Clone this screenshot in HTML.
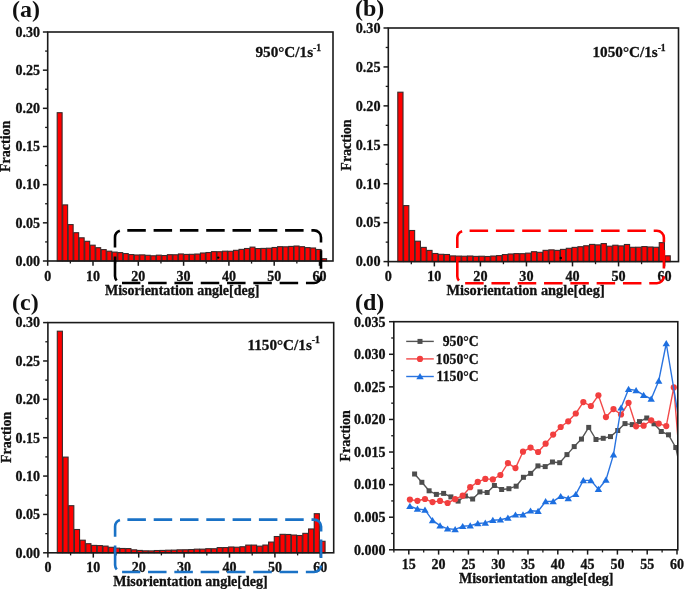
<!DOCTYPE html>
<html><head><meta charset="utf-8"><style>html,body{margin:0;padding:0;background:#fff;}svg{display:block;filter:blur(0.35px);}text{stroke:#111;stroke-width:0.3px;}</style></head><body>
<svg width="685" height="589" viewBox="0 0 685 589" font-family='"Liberation Serif", serif' font-weight="bold" fill="#111">
<rect width="685" height="589" fill="#ffffff"/>
<rect x="57.2" y="112.7" width="4.91" height="148.3" fill="#ff0000" stroke="#3a2a2a" stroke-width="1.1"/>
<rect x="62.71" y="204.9" width="4.91" height="56.1" fill="#ff0000" stroke="#3a2a2a" stroke-width="1.1"/>
<rect x="68.22" y="224.6" width="4.91" height="36.4" fill="#ff0000" stroke="#3a2a2a" stroke-width="1.1"/>
<rect x="73.73" y="232.7" width="4.91" height="28.3" fill="#ff0000" stroke="#3a2a2a" stroke-width="1.1"/>
<rect x="79.24" y="237.8" width="4.91" height="23.2" fill="#ff0000" stroke="#3a2a2a" stroke-width="1.1"/>
<rect x="84.75" y="241.3" width="4.91" height="19.7" fill="#ff0000" stroke="#3a2a2a" stroke-width="1.1"/>
<rect x="90.26" y="245.2" width="4.91" height="15.8" fill="#ff0000" stroke="#3a2a2a" stroke-width="1.1"/>
<rect x="95.77" y="247.7" width="4.91" height="13.3" fill="#ff0000" stroke="#3a2a2a" stroke-width="1.1"/>
<rect x="101.28" y="249.6" width="4.91" height="11.4" fill="#ff0000" stroke="#3a2a2a" stroke-width="1.1"/>
<rect x="106.79" y="251.2" width="4.91" height="9.8" fill="#ff0000" stroke="#3a2a2a" stroke-width="1.1"/>
<rect x="112.3" y="252.1" width="4.91" height="8.9" fill="#ff0000" stroke="#3a2a2a" stroke-width="1.1"/>
<rect x="117.81" y="252.6" width="4.91" height="8.4" fill="#ff0000" stroke="#3a2a2a" stroke-width="1.1"/>
<rect x="123.32" y="253.57" width="4.91" height="7.43" fill="#ff0000" stroke="#3a2a2a" stroke-width="1.1"/>
<rect x="128.83" y="254.57" width="4.91" height="6.43" fill="#ff0000" stroke="#3a2a2a" stroke-width="1.1"/>
<rect x="134.34" y="254.99" width="4.91" height="6.01" fill="#ff0000" stroke="#3a2a2a" stroke-width="1.1"/>
<rect x="139.85" y="254.88" width="4.91" height="6.12" fill="#ff0000" stroke="#3a2a2a" stroke-width="1.1"/>
<rect x="145.36" y="255.29" width="4.91" height="5.71" fill="#ff0000" stroke="#3a2a2a" stroke-width="1.1"/>
<rect x="150.87" y="255.78" width="4.91" height="5.22" fill="#ff0000" stroke="#3a2a2a" stroke-width="1.1"/>
<rect x="156.38" y="255.18" width="4.91" height="5.82" fill="#ff0000" stroke="#3a2a2a" stroke-width="1.1"/>
<rect x="161.89" y="255.53" width="4.91" height="5.47" fill="#ff0000" stroke="#3a2a2a" stroke-width="1.1"/>
<rect x="167.4" y="254.7" width="4.91" height="6.3" fill="#ff0000" stroke="#3a2a2a" stroke-width="1.1"/>
<rect x="172.91" y="254.77" width="4.91" height="6.23" fill="#ff0000" stroke="#3a2a2a" stroke-width="1.1"/>
<rect x="178.42" y="253.95" width="4.91" height="7.05" fill="#ff0000" stroke="#3a2a2a" stroke-width="1.1"/>
<rect x="183.93" y="254.42" width="4.91" height="6.58" fill="#ff0000" stroke="#3a2a2a" stroke-width="1.1"/>
<rect x="189.44" y="254.32" width="4.91" height="6.68" fill="#ff0000" stroke="#3a2a2a" stroke-width="1.1"/>
<rect x="194.95" y="254.03" width="4.91" height="6.97" fill="#ff0000" stroke="#3a2a2a" stroke-width="1.1"/>
<rect x="200.46" y="252.99" width="4.91" height="8.01" fill="#ff0000" stroke="#3a2a2a" stroke-width="1.1"/>
<rect x="205.97" y="252.53" width="4.91" height="8.47" fill="#ff0000" stroke="#3a2a2a" stroke-width="1.1"/>
<rect x="211.48" y="251.65" width="4.91" height="9.35" fill="#ff0000" stroke="#3a2a2a" stroke-width="1.1"/>
<rect x="216.99" y="251.73" width="4.91" height="9.27" fill="#ff0000" stroke="#3a2a2a" stroke-width="1.1"/>
<rect x="222.5" y="251.19" width="4.91" height="9.81" fill="#ff0000" stroke="#3a2a2a" stroke-width="1.1"/>
<rect x="228.01" y="251.27" width="4.91" height="9.73" fill="#ff0000" stroke="#3a2a2a" stroke-width="1.1"/>
<rect x="233.52" y="250.32" width="4.91" height="10.68" fill="#ff0000" stroke="#3a2a2a" stroke-width="1.1"/>
<rect x="239.03" y="249.38" width="4.91" height="11.62" fill="#ff0000" stroke="#3a2a2a" stroke-width="1.1"/>
<rect x="244.54" y="248.5" width="4.91" height="12.5" fill="#ff0000" stroke="#3a2a2a" stroke-width="1.1"/>
<rect x="250.05" y="247.13" width="4.91" height="13.87" fill="#ff0000" stroke="#3a2a2a" stroke-width="1.1"/>
<rect x="255.56" y="248.55" width="4.91" height="12.45" fill="#ff0000" stroke="#3a2a2a" stroke-width="1.1"/>
<rect x="261.07" y="248.41" width="4.91" height="12.59" fill="#ff0000" stroke="#3a2a2a" stroke-width="1.1"/>
<rect x="266.58" y="248.21" width="4.91" height="12.79" fill="#ff0000" stroke="#3a2a2a" stroke-width="1.1"/>
<rect x="272.09" y="247.49" width="4.91" height="13.51" fill="#ff0000" stroke="#3a2a2a" stroke-width="1.1"/>
<rect x="277.6" y="246.68" width="4.91" height="14.32" fill="#ff0000" stroke="#3a2a2a" stroke-width="1.1"/>
<rect x="283.11" y="246.8" width="4.91" height="14.2" fill="#ff0000" stroke="#3a2a2a" stroke-width="1.1"/>
<rect x="288.62" y="246.44" width="4.91" height="14.56" fill="#ff0000" stroke="#3a2a2a" stroke-width="1.1"/>
<rect x="294.13" y="246.02" width="4.91" height="14.98" fill="#ff0000" stroke="#3a2a2a" stroke-width="1.1"/>
<rect x="299.64" y="246.7" width="4.91" height="14.3" fill="#ff0000" stroke="#3a2a2a" stroke-width="1.1"/>
<rect x="305.15" y="247.61" width="4.91" height="13.39" fill="#ff0000" stroke="#3a2a2a" stroke-width="1.1"/>
<rect x="310.66" y="247.99" width="4.91" height="13.01" fill="#ff0000" stroke="#3a2a2a" stroke-width="1.1"/>
<rect x="316.17" y="249.49" width="4.91" height="11.51" fill="#ff0000" stroke="#3a2a2a" stroke-width="1.1"/>
<rect x="321.68" y="258.7" width="4.91" height="2.3" fill="#ff0000" stroke="#3a2a2a" stroke-width="1.1"/>
<rect x="47.7" y="32" width="285.3" height="229" fill="none" stroke="#1a1a1a" stroke-width="1.6"/>
<line x1="42.9" y1="261" x2="47.7" y2="261" stroke="#1a1a1a" stroke-width="1.5"/>
<text x="39.9" y="265.8" text-anchor="end" font-size="14">0.00</text>
<line x1="45.1" y1="241.92" x2="47.7" y2="241.92" stroke="#1a1a1a" stroke-width="1.3"/>
<line x1="42.9" y1="222.83" x2="47.7" y2="222.83" stroke="#1a1a1a" stroke-width="1.5"/>
<text x="39.9" y="227.63" text-anchor="end" font-size="14">0.05</text>
<line x1="45.1" y1="203.75" x2="47.7" y2="203.75" stroke="#1a1a1a" stroke-width="1.3"/>
<line x1="42.9" y1="184.67" x2="47.7" y2="184.67" stroke="#1a1a1a" stroke-width="1.5"/>
<text x="39.9" y="189.47" text-anchor="end" font-size="14">0.10</text>
<line x1="45.1" y1="165.58" x2="47.7" y2="165.58" stroke="#1a1a1a" stroke-width="1.3"/>
<line x1="42.9" y1="146.5" x2="47.7" y2="146.5" stroke="#1a1a1a" stroke-width="1.5"/>
<text x="39.9" y="151.3" text-anchor="end" font-size="14">0.15</text>
<line x1="45.1" y1="127.42" x2="47.7" y2="127.42" stroke="#1a1a1a" stroke-width="1.3"/>
<line x1="42.9" y1="108.33" x2="47.7" y2="108.33" stroke="#1a1a1a" stroke-width="1.5"/>
<text x="39.9" y="113.13" text-anchor="end" font-size="14">0.20</text>
<line x1="45.1" y1="89.25" x2="47.7" y2="89.25" stroke="#1a1a1a" stroke-width="1.3"/>
<line x1="42.9" y1="70.17" x2="47.7" y2="70.17" stroke="#1a1a1a" stroke-width="1.5"/>
<text x="39.9" y="74.97" text-anchor="end" font-size="14">0.25</text>
<line x1="45.1" y1="51.08" x2="47.7" y2="51.08" stroke="#1a1a1a" stroke-width="1.3"/>
<line x1="42.9" y1="32" x2="47.7" y2="32" stroke="#1a1a1a" stroke-width="1.5"/>
<text x="39.9" y="36.8" text-anchor="end" font-size="14">0.30</text>
<line x1="47.7" y1="261" x2="47.7" y2="265.8" stroke="#1a1a1a" stroke-width="1.5"/>
<text x="47.7" y="280.5" text-anchor="middle" font-size="14">0</text>
<line x1="70.35" y1="261" x2="70.35" y2="263.6" stroke="#1a1a1a" stroke-width="1.3"/>
<line x1="93" y1="261" x2="93" y2="265.8" stroke="#1a1a1a" stroke-width="1.5"/>
<text x="93" y="280.5" text-anchor="middle" font-size="14">10</text>
<line x1="115.65" y1="261" x2="115.65" y2="263.6" stroke="#1a1a1a" stroke-width="1.3"/>
<line x1="138.3" y1="261" x2="138.3" y2="265.8" stroke="#1a1a1a" stroke-width="1.5"/>
<text x="138.3" y="280.5" text-anchor="middle" font-size="14">20</text>
<line x1="160.95" y1="261" x2="160.95" y2="263.6" stroke="#1a1a1a" stroke-width="1.3"/>
<line x1="183.6" y1="261" x2="183.6" y2="265.8" stroke="#1a1a1a" stroke-width="1.5"/>
<text x="183.6" y="280.5" text-anchor="middle" font-size="14">30</text>
<line x1="206.25" y1="261" x2="206.25" y2="263.6" stroke="#1a1a1a" stroke-width="1.3"/>
<line x1="228.9" y1="261" x2="228.9" y2="265.8" stroke="#1a1a1a" stroke-width="1.5"/>
<text x="228.9" y="280.5" text-anchor="middle" font-size="14">40</text>
<line x1="251.55" y1="261" x2="251.55" y2="263.6" stroke="#1a1a1a" stroke-width="1.3"/>
<line x1="274.2" y1="261" x2="274.2" y2="265.8" stroke="#1a1a1a" stroke-width="1.5"/>
<text x="274.2" y="280.5" text-anchor="middle" font-size="14">50</text>
<line x1="296.85" y1="261" x2="296.85" y2="263.6" stroke="#1a1a1a" stroke-width="1.3"/>
<line x1="319.5" y1="261" x2="319.5" y2="265.8" stroke="#1a1a1a" stroke-width="1.5"/>
<text x="319.5" y="280.5" text-anchor="middle" font-size="14">60</text>
<text x="105" y="295" font-size="14">Misorientation angle[deg]</text>
<text transform="translate(10,146.3) rotate(-90)" text-anchor="middle" font-size="14">Fraction</text>
<text x="12" y="16.6" font-size="24" style="stroke-width:0">(a)</text>
<text x="255.5" y="57.3" font-size="15.2">950°C/1s<tspan font-size="9.58" dy="-6.54">-1</tspan></text>
<path d="M122,230.4 H314 A7.0,7.0 0 0 1 321,237.4 V276 A7.0,7.0 0 0 1 314,283 H122" fill="none" stroke="#000000" stroke-width="2.6" stroke-dasharray="18.5 7.8" stroke-dashoffset="21"/><path d="M116.64,280.5 A7.0,7.0 0 0 1 115,276 V256.4 M115,247.6 V237.4 A7.0,7.0 0 0 1 119.84,230.74" fill="none" stroke="#000000" stroke-width="2.6"/>
<rect x="397.8" y="92.2" width="5.21" height="169.4" fill="#ff0000" stroke="#3a2a2a" stroke-width="1.1"/>
<rect x="403.61" y="205.6" width="5.21" height="56" fill="#ff0000" stroke="#3a2a2a" stroke-width="1.1"/>
<rect x="409.42" y="230.5" width="5.21" height="31.1" fill="#ff0000" stroke="#3a2a2a" stroke-width="1.1"/>
<rect x="415.23" y="241.2" width="5.21" height="20.4" fill="#ff0000" stroke="#3a2a2a" stroke-width="1.1"/>
<rect x="421.04" y="247.4" width="5.21" height="14.2" fill="#ff0000" stroke="#3a2a2a" stroke-width="1.1"/>
<rect x="426.85" y="250.4" width="5.21" height="11.2" fill="#ff0000" stroke="#3a2a2a" stroke-width="1.1"/>
<rect x="432.66" y="253.5" width="5.21" height="8.1" fill="#ff0000" stroke="#3a2a2a" stroke-width="1.1"/>
<rect x="438.47" y="254.3" width="5.21" height="7.3" fill="#ff0000" stroke="#3a2a2a" stroke-width="1.1"/>
<rect x="444.28" y="254.5" width="5.21" height="7.1" fill="#ff0000" stroke="#3a2a2a" stroke-width="1.1"/>
<rect x="450.09" y="255.9" width="5.21" height="5.7" fill="#ff0000" stroke="#3a2a2a" stroke-width="1.1"/>
<rect x="455.9" y="256.09" width="5.21" height="5.51" fill="#ff0000" stroke="#3a2a2a" stroke-width="1.1"/>
<rect x="461.71" y="256.23" width="5.21" height="5.37" fill="#ff0000" stroke="#3a2a2a" stroke-width="1.1"/>
<rect x="467.52" y="256.01" width="5.21" height="5.59" fill="#ff0000" stroke="#3a2a2a" stroke-width="1.1"/>
<rect x="473.33" y="256.39" width="5.21" height="5.21" fill="#ff0000" stroke="#3a2a2a" stroke-width="1.1"/>
<rect x="479.14" y="256.24" width="5.21" height="5.36" fill="#ff0000" stroke="#3a2a2a" stroke-width="1.1"/>
<rect x="484.95" y="256.49" width="5.21" height="5.11" fill="#ff0000" stroke="#3a2a2a" stroke-width="1.1"/>
<rect x="490.76" y="256.04" width="5.21" height="5.56" fill="#ff0000" stroke="#3a2a2a" stroke-width="1.1"/>
<rect x="496.57" y="255.62" width="5.21" height="5.98" fill="#ff0000" stroke="#3a2a2a" stroke-width="1.1"/>
<rect x="502.38" y="254.6" width="5.21" height="7" fill="#ff0000" stroke="#3a2a2a" stroke-width="1.1"/>
<rect x="508.19" y="253.97" width="5.21" height="7.63" fill="#ff0000" stroke="#3a2a2a" stroke-width="1.1"/>
<rect x="514" y="253.61" width="5.21" height="7.99" fill="#ff0000" stroke="#3a2a2a" stroke-width="1.1"/>
<rect x="519.81" y="253.67" width="5.21" height="7.93" fill="#ff0000" stroke="#3a2a2a" stroke-width="1.1"/>
<rect x="525.62" y="253.14" width="5.21" height="8.46" fill="#ff0000" stroke="#3a2a2a" stroke-width="1.1"/>
<rect x="531.43" y="251.71" width="5.21" height="9.89" fill="#ff0000" stroke="#3a2a2a" stroke-width="1.1"/>
<rect x="537.24" y="252.31" width="5.21" height="9.29" fill="#ff0000" stroke="#3a2a2a" stroke-width="1.1"/>
<rect x="543.05" y="250.35" width="5.21" height="11.25" fill="#ff0000" stroke="#3a2a2a" stroke-width="1.1"/>
<rect x="548.86" y="249.86" width="5.21" height="11.74" fill="#ff0000" stroke="#3a2a2a" stroke-width="1.1"/>
<rect x="554.67" y="250.38" width="5.21" height="11.22" fill="#ff0000" stroke="#3a2a2a" stroke-width="1.1"/>
<rect x="560.48" y="249.39" width="5.21" height="12.21" fill="#ff0000" stroke="#3a2a2a" stroke-width="1.1"/>
<rect x="566.29" y="248.3" width="5.21" height="13.3" fill="#ff0000" stroke="#3a2a2a" stroke-width="1.1"/>
<rect x="572.1" y="247.39" width="5.21" height="14.21" fill="#ff0000" stroke="#3a2a2a" stroke-width="1.1"/>
<rect x="577.91" y="246.71" width="5.21" height="14.89" fill="#ff0000" stroke="#3a2a2a" stroke-width="1.1"/>
<rect x="583.72" y="245.77" width="5.21" height="15.83" fill="#ff0000" stroke="#3a2a2a" stroke-width="1.1"/>
<rect x="589.53" y="244.41" width="5.21" height="17.19" fill="#ff0000" stroke="#3a2a2a" stroke-width="1.1"/>
<rect x="595.34" y="244.87" width="5.21" height="16.73" fill="#ff0000" stroke="#3a2a2a" stroke-width="1.1"/>
<rect x="601.15" y="243.59" width="5.21" height="18.01" fill="#ff0000" stroke="#3a2a2a" stroke-width="1.1"/>
<rect x="606.96" y="246.2" width="5.21" height="15.4" fill="#ff0000" stroke="#3a2a2a" stroke-width="1.1"/>
<rect x="612.77" y="245.24" width="5.21" height="16.36" fill="#ff0000" stroke="#3a2a2a" stroke-width="1.1"/>
<rect x="618.58" y="245.89" width="5.21" height="15.71" fill="#ff0000" stroke="#3a2a2a" stroke-width="1.1"/>
<rect x="624.39" y="244.49" width="5.21" height="17.11" fill="#ff0000" stroke="#3a2a2a" stroke-width="1.1"/>
<rect x="630.2" y="247.31" width="5.21" height="14.29" fill="#ff0000" stroke="#3a2a2a" stroke-width="1.1"/>
<rect x="636.01" y="247.23" width="5.21" height="14.37" fill="#ff0000" stroke="#3a2a2a" stroke-width="1.1"/>
<rect x="641.82" y="246.59" width="5.21" height="15.01" fill="#ff0000" stroke="#3a2a2a" stroke-width="1.1"/>
<rect x="647.63" y="246.98" width="5.21" height="14.62" fill="#ff0000" stroke="#3a2a2a" stroke-width="1.1"/>
<rect x="653.44" y="247.28" width="5.21" height="14.32" fill="#ff0000" stroke="#3a2a2a" stroke-width="1.1"/>
<rect x="659.25" y="242.65" width="5.21" height="18.95" fill="#ff0000" stroke="#3a2a2a" stroke-width="1.1"/>
<rect x="665.06" y="255.8" width="5.21" height="5.8" fill="#ff0000" stroke="#3a2a2a" stroke-width="1.1"/>
<rect x="388.3" y="28" width="290.2" height="233.6" fill="none" stroke="#1a1a1a" stroke-width="1.6"/>
<line x1="383.5" y1="261.6" x2="388.3" y2="261.6" stroke="#1a1a1a" stroke-width="1.5"/>
<text x="380.5" y="266.4" text-anchor="end" font-size="14.2">0.00</text>
<line x1="385.7" y1="242.13" x2="388.3" y2="242.13" stroke="#1a1a1a" stroke-width="1.3"/>
<line x1="383.5" y1="222.67" x2="388.3" y2="222.67" stroke="#1a1a1a" stroke-width="1.5"/>
<text x="380.5" y="227.47" text-anchor="end" font-size="14.2">0.05</text>
<line x1="385.7" y1="203.2" x2="388.3" y2="203.2" stroke="#1a1a1a" stroke-width="1.3"/>
<line x1="383.5" y1="183.73" x2="388.3" y2="183.73" stroke="#1a1a1a" stroke-width="1.5"/>
<text x="380.5" y="188.53" text-anchor="end" font-size="14.2">0.10</text>
<line x1="385.7" y1="164.27" x2="388.3" y2="164.27" stroke="#1a1a1a" stroke-width="1.3"/>
<line x1="383.5" y1="144.8" x2="388.3" y2="144.8" stroke="#1a1a1a" stroke-width="1.5"/>
<text x="380.5" y="149.6" text-anchor="end" font-size="14.2">0.15</text>
<line x1="385.7" y1="125.33" x2="388.3" y2="125.33" stroke="#1a1a1a" stroke-width="1.3"/>
<line x1="383.5" y1="105.87" x2="388.3" y2="105.87" stroke="#1a1a1a" stroke-width="1.5"/>
<text x="380.5" y="110.67" text-anchor="end" font-size="14.2">0.20</text>
<line x1="385.7" y1="86.4" x2="388.3" y2="86.4" stroke="#1a1a1a" stroke-width="1.3"/>
<line x1="383.5" y1="66.93" x2="388.3" y2="66.93" stroke="#1a1a1a" stroke-width="1.5"/>
<text x="380.5" y="71.73" text-anchor="end" font-size="14.2">0.25</text>
<line x1="385.7" y1="47.47" x2="388.3" y2="47.47" stroke="#1a1a1a" stroke-width="1.3"/>
<line x1="383.5" y1="28" x2="388.3" y2="28" stroke="#1a1a1a" stroke-width="1.5"/>
<text x="380.5" y="32.8" text-anchor="end" font-size="14.2">0.30</text>
<line x1="388.3" y1="261.6" x2="388.3" y2="266.4" stroke="#1a1a1a" stroke-width="1.5"/>
<text x="388.3" y="281.1" text-anchor="middle" font-size="14.2">0</text>
<line x1="411.32" y1="261.6" x2="411.32" y2="264.2" stroke="#1a1a1a" stroke-width="1.3"/>
<line x1="434.35" y1="261.6" x2="434.35" y2="266.4" stroke="#1a1a1a" stroke-width="1.5"/>
<text x="434.35" y="281.1" text-anchor="middle" font-size="14.2">10</text>
<line x1="457.38" y1="261.6" x2="457.38" y2="264.2" stroke="#1a1a1a" stroke-width="1.3"/>
<line x1="480.4" y1="261.6" x2="480.4" y2="266.4" stroke="#1a1a1a" stroke-width="1.5"/>
<text x="480.4" y="281.1" text-anchor="middle" font-size="14.2">20</text>
<line x1="503.43" y1="261.6" x2="503.43" y2="264.2" stroke="#1a1a1a" stroke-width="1.3"/>
<line x1="526.45" y1="261.6" x2="526.45" y2="266.4" stroke="#1a1a1a" stroke-width="1.5"/>
<text x="526.45" y="281.1" text-anchor="middle" font-size="14.2">30</text>
<line x1="549.48" y1="261.6" x2="549.48" y2="264.2" stroke="#1a1a1a" stroke-width="1.3"/>
<line x1="572.5" y1="261.6" x2="572.5" y2="266.4" stroke="#1a1a1a" stroke-width="1.5"/>
<text x="572.5" y="281.1" text-anchor="middle" font-size="14.2">40</text>
<line x1="595.53" y1="261.6" x2="595.53" y2="264.2" stroke="#1a1a1a" stroke-width="1.3"/>
<line x1="618.55" y1="261.6" x2="618.55" y2="266.4" stroke="#1a1a1a" stroke-width="1.5"/>
<text x="618.55" y="281.1" text-anchor="middle" font-size="14.2">50</text>
<line x1="641.58" y1="261.6" x2="641.58" y2="264.2" stroke="#1a1a1a" stroke-width="1.3"/>
<line x1="664.6" y1="261.6" x2="664.6" y2="266.4" stroke="#1a1a1a" stroke-width="1.5"/>
<text x="664.6" y="281.1" text-anchor="middle" font-size="14.2">60</text>
<text x="446.5" y="295.4" font-size="14.35">Misorientation angle[deg]</text>
<text transform="translate(351.2,145) rotate(-90)" text-anchor="middle" font-size="14">Fraction</text>
<text x="355" y="15.5" font-size="24" style="stroke-width:0">(b)</text>
<text x="592.5" y="57.2" font-size="15.2">1050°C/1s<tspan font-size="9.58" dy="-6.54">-1</tspan></text>
<path d="M464.3,230.8 H656.9 A7.0,7.0 0 0 1 663.9,237.8 V276.2 A7.0,7.0 0 0 1 656.9,283.2 H464.3" fill="none" stroke="#ff0000" stroke-width="2.6" stroke-dasharray="18.5 7.8" stroke-dashoffset="21"/><path d="M458.94,280.7 A7.0,7.0 0 0 1 457.3,276.2 V256.8 M457.3,248 V237.8 A7.0,7.0 0 0 1 462.14,231.14" fill="none" stroke="#ff0000" stroke-width="2.6"/>
<rect x="57.3" y="331.2" width="5.11" height="221.6" fill="#ff0000" stroke="#3a2a2a" stroke-width="1.1"/>
<rect x="63.01" y="457.1" width="5.11" height="95.7" fill="#ff0000" stroke="#3a2a2a" stroke-width="1.1"/>
<rect x="68.72" y="505.7" width="5.11" height="47.1" fill="#ff0000" stroke="#3a2a2a" stroke-width="1.1"/>
<rect x="74.43" y="529.5" width="5.11" height="23.3" fill="#ff0000" stroke="#3a2a2a" stroke-width="1.1"/>
<rect x="80.14" y="540.2" width="5.11" height="12.6" fill="#ff0000" stroke="#3a2a2a" stroke-width="1.1"/>
<rect x="85.85" y="543.7" width="5.11" height="9.1" fill="#ff0000" stroke="#3a2a2a" stroke-width="1.1"/>
<rect x="91.56" y="545.4" width="5.11" height="7.4" fill="#ff0000" stroke="#3a2a2a" stroke-width="1.1"/>
<rect x="97.27" y="545.6" width="5.11" height="7.2" fill="#ff0000" stroke="#3a2a2a" stroke-width="1.1"/>
<rect x="102.98" y="546.1" width="5.11" height="6.7" fill="#ff0000" stroke="#3a2a2a" stroke-width="1.1"/>
<rect x="108.69" y="547.3" width="5.11" height="5.5" fill="#ff0000" stroke="#3a2a2a" stroke-width="1.1"/>
<rect x="114.4" y="548.14" width="5.11" height="4.66" fill="#ff0000" stroke="#3a2a2a" stroke-width="1.1"/>
<rect x="120.11" y="548.48" width="5.11" height="4.32" fill="#ff0000" stroke="#3a2a2a" stroke-width="1.1"/>
<rect x="125.82" y="548.59" width="5.11" height="4.21" fill="#ff0000" stroke="#3a2a2a" stroke-width="1.1"/>
<rect x="131.53" y="549.83" width="5.11" height="2.97" fill="#ff0000" stroke="#3a2a2a" stroke-width="1.1"/>
<rect x="137.24" y="550.44" width="5.11" height="2.36" fill="#ff0000" stroke="#3a2a2a" stroke-width="1.1"/>
<rect x="142.95" y="550.82" width="5.11" height="1.98" fill="#ff0000" stroke="#3a2a2a" stroke-width="1.1"/>
<rect x="148.66" y="550.89" width="5.11" height="1.91" fill="#ff0000" stroke="#3a2a2a" stroke-width="1.1"/>
<rect x="154.37" y="550.53" width="5.11" height="2.27" fill="#ff0000" stroke="#3a2a2a" stroke-width="1.1"/>
<rect x="160.08" y="550.44" width="5.11" height="2.36" fill="#ff0000" stroke="#3a2a2a" stroke-width="1.1"/>
<rect x="165.79" y="550.2" width="5.11" height="2.6" fill="#ff0000" stroke="#3a2a2a" stroke-width="1.1"/>
<rect x="171.5" y="550.12" width="5.11" height="2.68" fill="#ff0000" stroke="#3a2a2a" stroke-width="1.1"/>
<rect x="177.21" y="549.81" width="5.11" height="2.99" fill="#ff0000" stroke="#3a2a2a" stroke-width="1.1"/>
<rect x="182.92" y="549.76" width="5.11" height="3.04" fill="#ff0000" stroke="#3a2a2a" stroke-width="1.1"/>
<rect x="188.63" y="549.55" width="5.11" height="3.25" fill="#ff0000" stroke="#3a2a2a" stroke-width="1.1"/>
<rect x="194.34" y="549.17" width="5.11" height="3.63" fill="#ff0000" stroke="#3a2a2a" stroke-width="1.1"/>
<rect x="200.05" y="549.16" width="5.11" height="3.64" fill="#ff0000" stroke="#3a2a2a" stroke-width="1.1"/>
<rect x="205.76" y="548.7" width="5.11" height="4.1" fill="#ff0000" stroke="#3a2a2a" stroke-width="1.1"/>
<rect x="211.47" y="548.74" width="5.11" height="4.06" fill="#ff0000" stroke="#3a2a2a" stroke-width="1.1"/>
<rect x="217.18" y="547.6" width="5.11" height="5.2" fill="#ff0000" stroke="#3a2a2a" stroke-width="1.1"/>
<rect x="222.89" y="547.59" width="5.11" height="5.21" fill="#ff0000" stroke="#3a2a2a" stroke-width="1.1"/>
<rect x="228.6" y="546.98" width="5.11" height="5.82" fill="#ff0000" stroke="#3a2a2a" stroke-width="1.1"/>
<rect x="234.31" y="547.24" width="5.11" height="5.56" fill="#ff0000" stroke="#3a2a2a" stroke-width="1.1"/>
<rect x="240.02" y="546.75" width="5.11" height="6.05" fill="#ff0000" stroke="#3a2a2a" stroke-width="1.1"/>
<rect x="245.73" y="545.11" width="5.11" height="7.69" fill="#ff0000" stroke="#3a2a2a" stroke-width="1.1"/>
<rect x="251.44" y="545.11" width="5.11" height="7.69" fill="#ff0000" stroke="#3a2a2a" stroke-width="1.1"/>
<rect x="257.15" y="546.15" width="5.11" height="6.65" fill="#ff0000" stroke="#3a2a2a" stroke-width="1.1"/>
<rect x="262.86" y="545.06" width="5.11" height="7.74" fill="#ff0000" stroke="#3a2a2a" stroke-width="1.1"/>
<rect x="268.57" y="542.06" width="5.11" height="10.74" fill="#ff0000" stroke="#3a2a2a" stroke-width="1.1"/>
<rect x="274.28" y="536.54" width="5.11" height="16.26" fill="#ff0000" stroke="#3a2a2a" stroke-width="1.1"/>
<rect x="279.99" y="534.34" width="5.11" height="18.46" fill="#ff0000" stroke="#3a2a2a" stroke-width="1.1"/>
<rect x="285.7" y="534.48" width="5.11" height="18.32" fill="#ff0000" stroke="#3a2a2a" stroke-width="1.1"/>
<rect x="291.41" y="535.05" width="5.11" height="17.75" fill="#ff0000" stroke="#3a2a2a" stroke-width="1.1"/>
<rect x="297.12" y="535.5" width="5.11" height="17.3" fill="#ff0000" stroke="#3a2a2a" stroke-width="1.1"/>
<rect x="302.83" y="533.36" width="5.11" height="19.44" fill="#ff0000" stroke="#3a2a2a" stroke-width="1.1"/>
<rect x="308.54" y="528.95" width="5.11" height="23.85" fill="#ff0000" stroke="#3a2a2a" stroke-width="1.1"/>
<rect x="314.25" y="513.7" width="5.11" height="39.1" fill="#ff0000" stroke="#3a2a2a" stroke-width="1.1"/>
<rect x="319.96" y="541.3" width="5.11" height="11.5" fill="#ff0000" stroke="#3a2a2a" stroke-width="1.1"/>
<rect x="47.9" y="322.6" width="285.8" height="230.2" fill="none" stroke="#1a1a1a" stroke-width="1.6"/>
<line x1="43.1" y1="552.8" x2="47.9" y2="552.8" stroke="#1a1a1a" stroke-width="1.5"/>
<text x="40.1" y="557.6" text-anchor="end" font-size="14">0.00</text>
<line x1="45.3" y1="533.62" x2="47.9" y2="533.62" stroke="#1a1a1a" stroke-width="1.3"/>
<line x1="43.1" y1="514.43" x2="47.9" y2="514.43" stroke="#1a1a1a" stroke-width="1.5"/>
<text x="40.1" y="519.23" text-anchor="end" font-size="14">0.05</text>
<line x1="45.3" y1="495.25" x2="47.9" y2="495.25" stroke="#1a1a1a" stroke-width="1.3"/>
<line x1="43.1" y1="476.07" x2="47.9" y2="476.07" stroke="#1a1a1a" stroke-width="1.5"/>
<text x="40.1" y="480.87" text-anchor="end" font-size="14">0.10</text>
<line x1="45.3" y1="456.88" x2="47.9" y2="456.88" stroke="#1a1a1a" stroke-width="1.3"/>
<line x1="43.1" y1="437.7" x2="47.9" y2="437.7" stroke="#1a1a1a" stroke-width="1.5"/>
<text x="40.1" y="442.5" text-anchor="end" font-size="14">0.15</text>
<line x1="45.3" y1="418.52" x2="47.9" y2="418.52" stroke="#1a1a1a" stroke-width="1.3"/>
<line x1="43.1" y1="399.33" x2="47.9" y2="399.33" stroke="#1a1a1a" stroke-width="1.5"/>
<text x="40.1" y="404.13" text-anchor="end" font-size="14">0.20</text>
<line x1="45.3" y1="380.15" x2="47.9" y2="380.15" stroke="#1a1a1a" stroke-width="1.3"/>
<line x1="43.1" y1="360.97" x2="47.9" y2="360.97" stroke="#1a1a1a" stroke-width="1.5"/>
<text x="40.1" y="365.77" text-anchor="end" font-size="14">0.25</text>
<line x1="45.3" y1="341.78" x2="47.9" y2="341.78" stroke="#1a1a1a" stroke-width="1.3"/>
<line x1="43.1" y1="322.6" x2="47.9" y2="322.6" stroke="#1a1a1a" stroke-width="1.5"/>
<text x="40.1" y="327.4" text-anchor="end" font-size="14">0.30</text>
<line x1="47.9" y1="552.8" x2="47.9" y2="557.6" stroke="#1a1a1a" stroke-width="1.5"/>
<text x="47.9" y="572.3" text-anchor="middle" font-size="14">0</text>
<line x1="70.6" y1="552.8" x2="70.6" y2="555.4" stroke="#1a1a1a" stroke-width="1.3"/>
<line x1="93.3" y1="552.8" x2="93.3" y2="557.6" stroke="#1a1a1a" stroke-width="1.5"/>
<text x="93.3" y="572.3" text-anchor="middle" font-size="14">10</text>
<line x1="116" y1="552.8" x2="116" y2="555.4" stroke="#1a1a1a" stroke-width="1.3"/>
<line x1="138.7" y1="552.8" x2="138.7" y2="557.6" stroke="#1a1a1a" stroke-width="1.5"/>
<text x="138.7" y="572.3" text-anchor="middle" font-size="14">20</text>
<line x1="161.4" y1="552.8" x2="161.4" y2="555.4" stroke="#1a1a1a" stroke-width="1.3"/>
<line x1="184.1" y1="552.8" x2="184.1" y2="557.6" stroke="#1a1a1a" stroke-width="1.5"/>
<text x="184.1" y="572.3" text-anchor="middle" font-size="14">30</text>
<line x1="206.8" y1="552.8" x2="206.8" y2="555.4" stroke="#1a1a1a" stroke-width="1.3"/>
<line x1="229.5" y1="552.8" x2="229.5" y2="557.6" stroke="#1a1a1a" stroke-width="1.5"/>
<text x="229.5" y="572.3" text-anchor="middle" font-size="14">40</text>
<line x1="252.2" y1="552.8" x2="252.2" y2="555.4" stroke="#1a1a1a" stroke-width="1.3"/>
<line x1="274.9" y1="552.8" x2="274.9" y2="557.6" stroke="#1a1a1a" stroke-width="1.5"/>
<text x="274.9" y="572.3" text-anchor="middle" font-size="14">50</text>
<line x1="297.6" y1="552.8" x2="297.6" y2="555.4" stroke="#1a1a1a" stroke-width="1.3"/>
<line x1="320.3" y1="552.8" x2="320.3" y2="557.6" stroke="#1a1a1a" stroke-width="1.5"/>
<text x="320.3" y="572.3" text-anchor="middle" font-size="14">60</text>
<text x="113.2" y="585.9" font-size="14">Misorientation angle[deg]</text>
<text transform="translate(11.2,437.4) rotate(-90)" text-anchor="middle" font-size="14">Fraction</text>
<text x="12" y="309.7" font-size="24" style="stroke-width:0">(c)</text>
<text x="247.5" y="349.9" font-size="15.2">1150°C/1s<tspan font-size="9.58" dy="-6.54">-1</tspan></text>
<path d="M122.1,519.6 H314.1 A7.0,7.0 0 0 1 321.1,526.6 V565 A7.0,7.0 0 0 1 314.1,572 H122.1" fill="none" stroke="#1a72c6" stroke-width="2.6" stroke-dasharray="18.5 7.8" stroke-dashoffset="21"/><path d="M116.74,569.5 A7.0,7.0 0 0 1 115.1,565 V545.6 M115.1,536.8 V526.6 A7.0,7.0 0 0 1 119.94,519.94" fill="none" stroke="#1a72c6" stroke-width="2.6"/>
<circle cx="218.2" cy="257.6" r="1.2" fill="#000"/>
<circle cx="560.8" cy="258" r="1.2" fill="#000"/>
<defs><clipPath id="cd"><rect x="393.8" y="321.7" width="284" height="228.1"/></clipPath></defs>
<g clip-path="url(#cd)">
<polyline points="414.6,474 421.86,482.3 429.11,490.8 436.37,494.4 443.62,493.4 450.88,496.9 458.13,501.1 465.38,496 472.64,499 479.9,491.9 487.15,492.5 494.41,485.5 501.66,489.5 508.92,488.7 516.17,486.2 523.43,477.3 530.68,473.4 537.94,465.9 545.19,466.6 552.45,462 559.7,462.7 566.96,454.6 574.21,446.6 581.47,439.1 588.72,427.4 595.98,439.5 603.23,438.3 610.49,436.6 617.74,430.5 625,423.6 632.25,424.6 639.5,421.6 646.76,418 654.01,423.8 661.27,431.5 668.52,434.8 675.78,447.5 682.7,480" fill="none" stroke="#555555" stroke-width="1.4" stroke-linejoin="round"/>
<rect x="412.1" y="471.5" width="5" height="5" fill="#4d4d4d"/>
<rect x="419.36" y="479.8" width="5" height="5" fill="#4d4d4d"/>
<rect x="426.61" y="488.3" width="5" height="5" fill="#4d4d4d"/>
<rect x="433.87" y="491.9" width="5" height="5" fill="#4d4d4d"/>
<rect x="441.12" y="490.9" width="5" height="5" fill="#4d4d4d"/>
<rect x="448.38" y="494.4" width="5" height="5" fill="#4d4d4d"/>
<rect x="455.63" y="498.6" width="5" height="5" fill="#4d4d4d"/>
<rect x="462.88" y="493.5" width="5" height="5" fill="#4d4d4d"/>
<rect x="470.14" y="496.5" width="5" height="5" fill="#4d4d4d"/>
<rect x="477.4" y="489.4" width="5" height="5" fill="#4d4d4d"/>
<rect x="484.65" y="490" width="5" height="5" fill="#4d4d4d"/>
<rect x="491.91" y="483" width="5" height="5" fill="#4d4d4d"/>
<rect x="499.16" y="487" width="5" height="5" fill="#4d4d4d"/>
<rect x="506.42" y="486.2" width="5" height="5" fill="#4d4d4d"/>
<rect x="513.67" y="483.7" width="5" height="5" fill="#4d4d4d"/>
<rect x="520.93" y="474.8" width="5" height="5" fill="#4d4d4d"/>
<rect x="528.18" y="470.9" width="5" height="5" fill="#4d4d4d"/>
<rect x="535.44" y="463.4" width="5" height="5" fill="#4d4d4d"/>
<rect x="542.69" y="464.1" width="5" height="5" fill="#4d4d4d"/>
<rect x="549.95" y="459.5" width="5" height="5" fill="#4d4d4d"/>
<rect x="557.2" y="460.2" width="5" height="5" fill="#4d4d4d"/>
<rect x="564.46" y="452.1" width="5" height="5" fill="#4d4d4d"/>
<rect x="571.71" y="444.1" width="5" height="5" fill="#4d4d4d"/>
<rect x="578.97" y="436.6" width="5" height="5" fill="#4d4d4d"/>
<rect x="586.22" y="424.9" width="5" height="5" fill="#4d4d4d"/>
<rect x="593.48" y="437" width="5" height="5" fill="#4d4d4d"/>
<rect x="600.73" y="435.8" width="5" height="5" fill="#4d4d4d"/>
<rect x="607.99" y="434.1" width="5" height="5" fill="#4d4d4d"/>
<rect x="615.24" y="428" width="5" height="5" fill="#4d4d4d"/>
<rect x="622.5" y="421.1" width="5" height="5" fill="#4d4d4d"/>
<rect x="629.75" y="422.1" width="5" height="5" fill="#4d4d4d"/>
<rect x="637" y="419.1" width="5" height="5" fill="#4d4d4d"/>
<rect x="644.26" y="415.5" width="5" height="5" fill="#4d4d4d"/>
<rect x="651.51" y="421.3" width="5" height="5" fill="#4d4d4d"/>
<rect x="658.77" y="429" width="5" height="5" fill="#4d4d4d"/>
<rect x="666.02" y="432.3" width="5" height="5" fill="#4d4d4d"/>
<rect x="673.28" y="445" width="5" height="5" fill="#4d4d4d"/>
<polyline points="409.9,499.6 417.44,500.8 424.98,499 432.52,502.1 440.06,500.9 447.6,503 455.14,499.2 462.68,495.7 470.22,487.2 477.76,481.9 485.3,478.9 492.84,479.4 500.38,475 507.92,463.1 515.46,468.1 523,451.7 530.54,447.6 538.08,452 545.62,443.7 553.16,434.6 560.7,427 568.24,421.3 575.78,413.5 583.32,402.1 590.86,406 598.4,395.3 605.94,417.1 613.48,409.1 621.02,414.5 628.56,402.8 636.1,426.3 643.64,425.7 651.18,420.3 658.72,423.6 666.26,426.1 673.8,387.4 681.3,480" fill="none" stroke="#f24a4a" stroke-width="1.4" stroke-linejoin="round"/>
<circle cx="409.9" cy="499.6" r="3.1" fill="#f23f3f"/>
<circle cx="417.44" cy="500.8" r="3.1" fill="#f23f3f"/>
<circle cx="424.98" cy="499" r="3.1" fill="#f23f3f"/>
<circle cx="432.52" cy="502.1" r="3.1" fill="#f23f3f"/>
<circle cx="440.06" cy="500.9" r="3.1" fill="#f23f3f"/>
<circle cx="447.6" cy="503" r="3.1" fill="#f23f3f"/>
<circle cx="455.14" cy="499.2" r="3.1" fill="#f23f3f"/>
<circle cx="462.68" cy="495.7" r="3.1" fill="#f23f3f"/>
<circle cx="470.22" cy="487.2" r="3.1" fill="#f23f3f"/>
<circle cx="477.76" cy="481.9" r="3.1" fill="#f23f3f"/>
<circle cx="485.3" cy="478.9" r="3.1" fill="#f23f3f"/>
<circle cx="492.84" cy="479.4" r="3.1" fill="#f23f3f"/>
<circle cx="500.38" cy="475" r="3.1" fill="#f23f3f"/>
<circle cx="507.92" cy="463.1" r="3.1" fill="#f23f3f"/>
<circle cx="515.46" cy="468.1" r="3.1" fill="#f23f3f"/>
<circle cx="523" cy="451.7" r="3.1" fill="#f23f3f"/>
<circle cx="530.54" cy="447.6" r="3.1" fill="#f23f3f"/>
<circle cx="538.08" cy="452" r="3.1" fill="#f23f3f"/>
<circle cx="545.62" cy="443.7" r="3.1" fill="#f23f3f"/>
<circle cx="553.16" cy="434.6" r="3.1" fill="#f23f3f"/>
<circle cx="560.7" cy="427" r="3.1" fill="#f23f3f"/>
<circle cx="568.24" cy="421.3" r="3.1" fill="#f23f3f"/>
<circle cx="575.78" cy="413.5" r="3.1" fill="#f23f3f"/>
<circle cx="583.32" cy="402.1" r="3.1" fill="#f23f3f"/>
<circle cx="590.86" cy="406" r="3.1" fill="#f23f3f"/>
<circle cx="598.4" cy="395.3" r="3.1" fill="#f23f3f"/>
<circle cx="605.94" cy="417.1" r="3.1" fill="#f23f3f"/>
<circle cx="613.48" cy="409.1" r="3.1" fill="#f23f3f"/>
<circle cx="621.02" cy="414.5" r="3.1" fill="#f23f3f"/>
<circle cx="628.56" cy="402.8" r="3.1" fill="#f23f3f"/>
<circle cx="636.1" cy="426.3" r="3.1" fill="#f23f3f"/>
<circle cx="643.64" cy="425.7" r="3.1" fill="#f23f3f"/>
<circle cx="651.18" cy="420.3" r="3.1" fill="#f23f3f"/>
<circle cx="658.72" cy="423.6" r="3.1" fill="#f23f3f"/>
<circle cx="666.26" cy="426.1" r="3.1" fill="#f23f3f"/>
<circle cx="673.8" cy="387.4" r="3.1" fill="#f23f3f"/>
<polyline points="409.9,506.1 417.44,509 424.98,509.9 432.52,520.4 440.06,525.6 447.6,528.8 455.14,529.4 462.68,526.3 470.22,525.6 477.76,523.5 485.3,522.9 492.84,520.2 500.38,519.8 507.92,518 515.46,514.8 523,514.7 530.54,510.8 538.08,511.2 545.62,501.5 553.16,501.4 560.7,496.3 568.24,498.5 575.78,494.3 583.32,480.4 590.86,480.4 598.4,489.2 605.94,480 613.48,454.6 621.02,407.8 628.56,389.2 636.1,390.4 643.64,395.2 651.18,399 658.72,380.9 666.26,343.5 682,438" fill="none" stroke="#2a74e0" stroke-width="1.4" stroke-linejoin="round"/>
<path d="M409.9,502.7 L413.6,508.9 L406.2,508.9 Z" fill="#1d6fe0"/>
<path d="M417.44,505.6 L421.14,511.8 L413.74,511.8 Z" fill="#1d6fe0"/>
<path d="M424.98,506.5 L428.68,512.7 L421.28,512.7 Z" fill="#1d6fe0"/>
<path d="M432.52,517 L436.22,523.2 L428.82,523.2 Z" fill="#1d6fe0"/>
<path d="M440.06,522.2 L443.76,528.4 L436.36,528.4 Z" fill="#1d6fe0"/>
<path d="M447.6,525.4 L451.3,531.6 L443.9,531.6 Z" fill="#1d6fe0"/>
<path d="M455.14,526 L458.84,532.2 L451.44,532.2 Z" fill="#1d6fe0"/>
<path d="M462.68,522.9 L466.38,529.1 L458.98,529.1 Z" fill="#1d6fe0"/>
<path d="M470.22,522.2 L473.92,528.4 L466.52,528.4 Z" fill="#1d6fe0"/>
<path d="M477.76,520.1 L481.46,526.3 L474.06,526.3 Z" fill="#1d6fe0"/>
<path d="M485.3,519.5 L489,525.7 L481.6,525.7 Z" fill="#1d6fe0"/>
<path d="M492.84,516.8 L496.54,523 L489.14,523 Z" fill="#1d6fe0"/>
<path d="M500.38,516.4 L504.08,522.6 L496.68,522.6 Z" fill="#1d6fe0"/>
<path d="M507.92,514.6 L511.62,520.8 L504.22,520.8 Z" fill="#1d6fe0"/>
<path d="M515.46,511.4 L519.16,517.6 L511.76,517.6 Z" fill="#1d6fe0"/>
<path d="M523,511.3 L526.7,517.5 L519.3,517.5 Z" fill="#1d6fe0"/>
<path d="M530.54,507.4 L534.24,513.6 L526.84,513.6 Z" fill="#1d6fe0"/>
<path d="M538.08,507.8 L541.78,514 L534.38,514 Z" fill="#1d6fe0"/>
<path d="M545.62,498.1 L549.32,504.3 L541.92,504.3 Z" fill="#1d6fe0"/>
<path d="M553.16,498 L556.86,504.2 L549.46,504.2 Z" fill="#1d6fe0"/>
<path d="M560.7,492.9 L564.4,499.1 L557,499.1 Z" fill="#1d6fe0"/>
<path d="M568.24,495.1 L571.94,501.3 L564.54,501.3 Z" fill="#1d6fe0"/>
<path d="M575.78,490.9 L579.48,497.1 L572.08,497.1 Z" fill="#1d6fe0"/>
<path d="M583.32,477 L587.02,483.2 L579.62,483.2 Z" fill="#1d6fe0"/>
<path d="M590.86,477 L594.56,483.2 L587.16,483.2 Z" fill="#1d6fe0"/>
<path d="M598.4,485.8 L602.1,492 L594.7,492 Z" fill="#1d6fe0"/>
<path d="M605.94,476.6 L609.64,482.8 L602.24,482.8 Z" fill="#1d6fe0"/>
<path d="M613.48,451.2 L617.18,457.4 L609.78,457.4 Z" fill="#1d6fe0"/>
<path d="M621.02,404.4 L624.72,410.6 L617.32,410.6 Z" fill="#1d6fe0"/>
<path d="M628.56,385.8 L632.26,392 L624.86,392 Z" fill="#1d6fe0"/>
<path d="M636.1,387 L639.8,393.2 L632.4,393.2 Z" fill="#1d6fe0"/>
<path d="M643.64,391.8 L647.34,398 L639.94,398 Z" fill="#1d6fe0"/>
<path d="M651.18,395.6 L654.88,401.8 L647.48,401.8 Z" fill="#1d6fe0"/>
<path d="M658.72,377.5 L662.42,383.7 L655.02,383.7 Z" fill="#1d6fe0"/>
<path d="M666.26,340.1 L669.96,346.3 L662.56,346.3 Z" fill="#1d6fe0"/>
</g>
<rect x="393.8" y="321.7" width="284" height="228.1" fill="none" stroke="#1a1a1a" stroke-width="1.6"/>
<line x1="389" y1="549.8" x2="393.8" y2="549.8" stroke="#1a1a1a" stroke-width="1.5"/>
<text x="385.5" y="554.6" text-anchor="end" font-size="14">0.000</text>
<line x1="391.2" y1="533.51" x2="393.8" y2="533.51" stroke="#1a1a1a" stroke-width="1.3"/>
<line x1="389" y1="517.21" x2="393.8" y2="517.21" stroke="#1a1a1a" stroke-width="1.5"/>
<text x="385.5" y="522.01" text-anchor="end" font-size="14">0.005</text>
<line x1="391.2" y1="500.92" x2="393.8" y2="500.92" stroke="#1a1a1a" stroke-width="1.3"/>
<line x1="389" y1="484.63" x2="393.8" y2="484.63" stroke="#1a1a1a" stroke-width="1.5"/>
<text x="385.5" y="489.43" text-anchor="end" font-size="14">0.010</text>
<line x1="391.2" y1="468.34" x2="393.8" y2="468.34" stroke="#1a1a1a" stroke-width="1.3"/>
<line x1="389" y1="452.04" x2="393.8" y2="452.04" stroke="#1a1a1a" stroke-width="1.5"/>
<text x="385.5" y="456.84" text-anchor="end" font-size="14">0.015</text>
<line x1="391.2" y1="435.75" x2="393.8" y2="435.75" stroke="#1a1a1a" stroke-width="1.3"/>
<line x1="389" y1="419.46" x2="393.8" y2="419.46" stroke="#1a1a1a" stroke-width="1.5"/>
<text x="385.5" y="424.26" text-anchor="end" font-size="14">0.020</text>
<line x1="391.2" y1="403.16" x2="393.8" y2="403.16" stroke="#1a1a1a" stroke-width="1.3"/>
<line x1="389" y1="386.87" x2="393.8" y2="386.87" stroke="#1a1a1a" stroke-width="1.5"/>
<text x="385.5" y="391.67" text-anchor="end" font-size="14">0.025</text>
<line x1="391.2" y1="370.58" x2="393.8" y2="370.58" stroke="#1a1a1a" stroke-width="1.3"/>
<line x1="389" y1="354.29" x2="393.8" y2="354.29" stroke="#1a1a1a" stroke-width="1.5"/>
<text x="385.5" y="359.09" text-anchor="end" font-size="14">0.030</text>
<line x1="391.2" y1="337.99" x2="393.8" y2="337.99" stroke="#1a1a1a" stroke-width="1.3"/>
<line x1="389" y1="321.7" x2="393.8" y2="321.7" stroke="#1a1a1a" stroke-width="1.5"/>
<text x="385.5" y="326.5" text-anchor="end" font-size="14">0.035</text>
<line x1="393.9" y1="549.8" x2="393.9" y2="552.4" stroke="#1a1a1a" stroke-width="1.3"/>
<line x1="408.8" y1="549.8" x2="408.8" y2="554.6" stroke="#1a1a1a" stroke-width="1.5"/>
<text x="408.8" y="569.3" text-anchor="middle" font-size="14">15</text>
<line x1="423.7" y1="549.8" x2="423.7" y2="552.4" stroke="#1a1a1a" stroke-width="1.3"/>
<line x1="438.6" y1="549.8" x2="438.6" y2="554.6" stroke="#1a1a1a" stroke-width="1.5"/>
<text x="438.6" y="569.3" text-anchor="middle" font-size="14">20</text>
<line x1="453.5" y1="549.8" x2="453.5" y2="552.4" stroke="#1a1a1a" stroke-width="1.3"/>
<line x1="468.4" y1="549.8" x2="468.4" y2="554.6" stroke="#1a1a1a" stroke-width="1.5"/>
<text x="468.4" y="569.3" text-anchor="middle" font-size="14">25</text>
<line x1="483.3" y1="549.8" x2="483.3" y2="552.4" stroke="#1a1a1a" stroke-width="1.3"/>
<line x1="498.2" y1="549.8" x2="498.2" y2="554.6" stroke="#1a1a1a" stroke-width="1.5"/>
<text x="498.2" y="569.3" text-anchor="middle" font-size="14">30</text>
<line x1="513.1" y1="549.8" x2="513.1" y2="552.4" stroke="#1a1a1a" stroke-width="1.3"/>
<line x1="528" y1="549.8" x2="528" y2="554.6" stroke="#1a1a1a" stroke-width="1.5"/>
<text x="528" y="569.3" text-anchor="middle" font-size="14">35</text>
<line x1="542.9" y1="549.8" x2="542.9" y2="552.4" stroke="#1a1a1a" stroke-width="1.3"/>
<line x1="557.8" y1="549.8" x2="557.8" y2="554.6" stroke="#1a1a1a" stroke-width="1.5"/>
<text x="557.8" y="569.3" text-anchor="middle" font-size="14">40</text>
<line x1="572.7" y1="549.8" x2="572.7" y2="552.4" stroke="#1a1a1a" stroke-width="1.3"/>
<line x1="587.6" y1="549.8" x2="587.6" y2="554.6" stroke="#1a1a1a" stroke-width="1.5"/>
<text x="587.6" y="569.3" text-anchor="middle" font-size="14">45</text>
<line x1="602.5" y1="549.8" x2="602.5" y2="552.4" stroke="#1a1a1a" stroke-width="1.3"/>
<line x1="617.4" y1="549.8" x2="617.4" y2="554.6" stroke="#1a1a1a" stroke-width="1.5"/>
<text x="617.4" y="569.3" text-anchor="middle" font-size="14">50</text>
<line x1="632.3" y1="549.8" x2="632.3" y2="552.4" stroke="#1a1a1a" stroke-width="1.3"/>
<line x1="647.2" y1="549.8" x2="647.2" y2="554.6" stroke="#1a1a1a" stroke-width="1.5"/>
<text x="647.2" y="569.3" text-anchor="middle" font-size="14">55</text>
<line x1="662.1" y1="549.8" x2="662.1" y2="552.4" stroke="#1a1a1a" stroke-width="1.3"/>
<line x1="677" y1="549.8" x2="677" y2="554.6" stroke="#1a1a1a" stroke-width="1.5"/>
<text x="677" y="569.3" text-anchor="middle" font-size="14">60</text>
<text x="459.0" y="583.1" font-size="14">Misorientation angle[deg]</text>
<text transform="translate(349.8,435.9) rotate(-90)" text-anchor="middle" font-size="14">Fraction</text>
<text x="355.0" y="310.4" font-size="24" style="stroke-width:0">(d)</text>
<line x1="406.2" y1="341.4" x2="433.8" y2="341.4" stroke="#555555" stroke-width="1.4"/>
<rect x="417.5" y="338.9" width="5" height="5" fill="#4d4d4d"/>
<line x1="406.2" y1="358.9" x2="433.8" y2="358.9" stroke="#f24a4a" stroke-width="1.4"/>
<circle cx="420" cy="358.9" r="3.1" fill="#f23f3f"/>
<line x1="406.2" y1="376.5" x2="433.8" y2="376.5" stroke="#2a74e0" stroke-width="1.4"/>
<path d="M420,373.1 L423.7,379.3 L416.3,379.3 Z" fill="#1d6fe0"/>
<text x="478.6" y="346.3" text-anchor="end" font-size="13.7">950°C</text>
<text x="478.6" y="363.8" text-anchor="end" font-size="13.7">1050°C</text>
<text x="478.6" y="381.4" text-anchor="end" font-size="13.7">1150°C</text>
</svg>
</body></html>
